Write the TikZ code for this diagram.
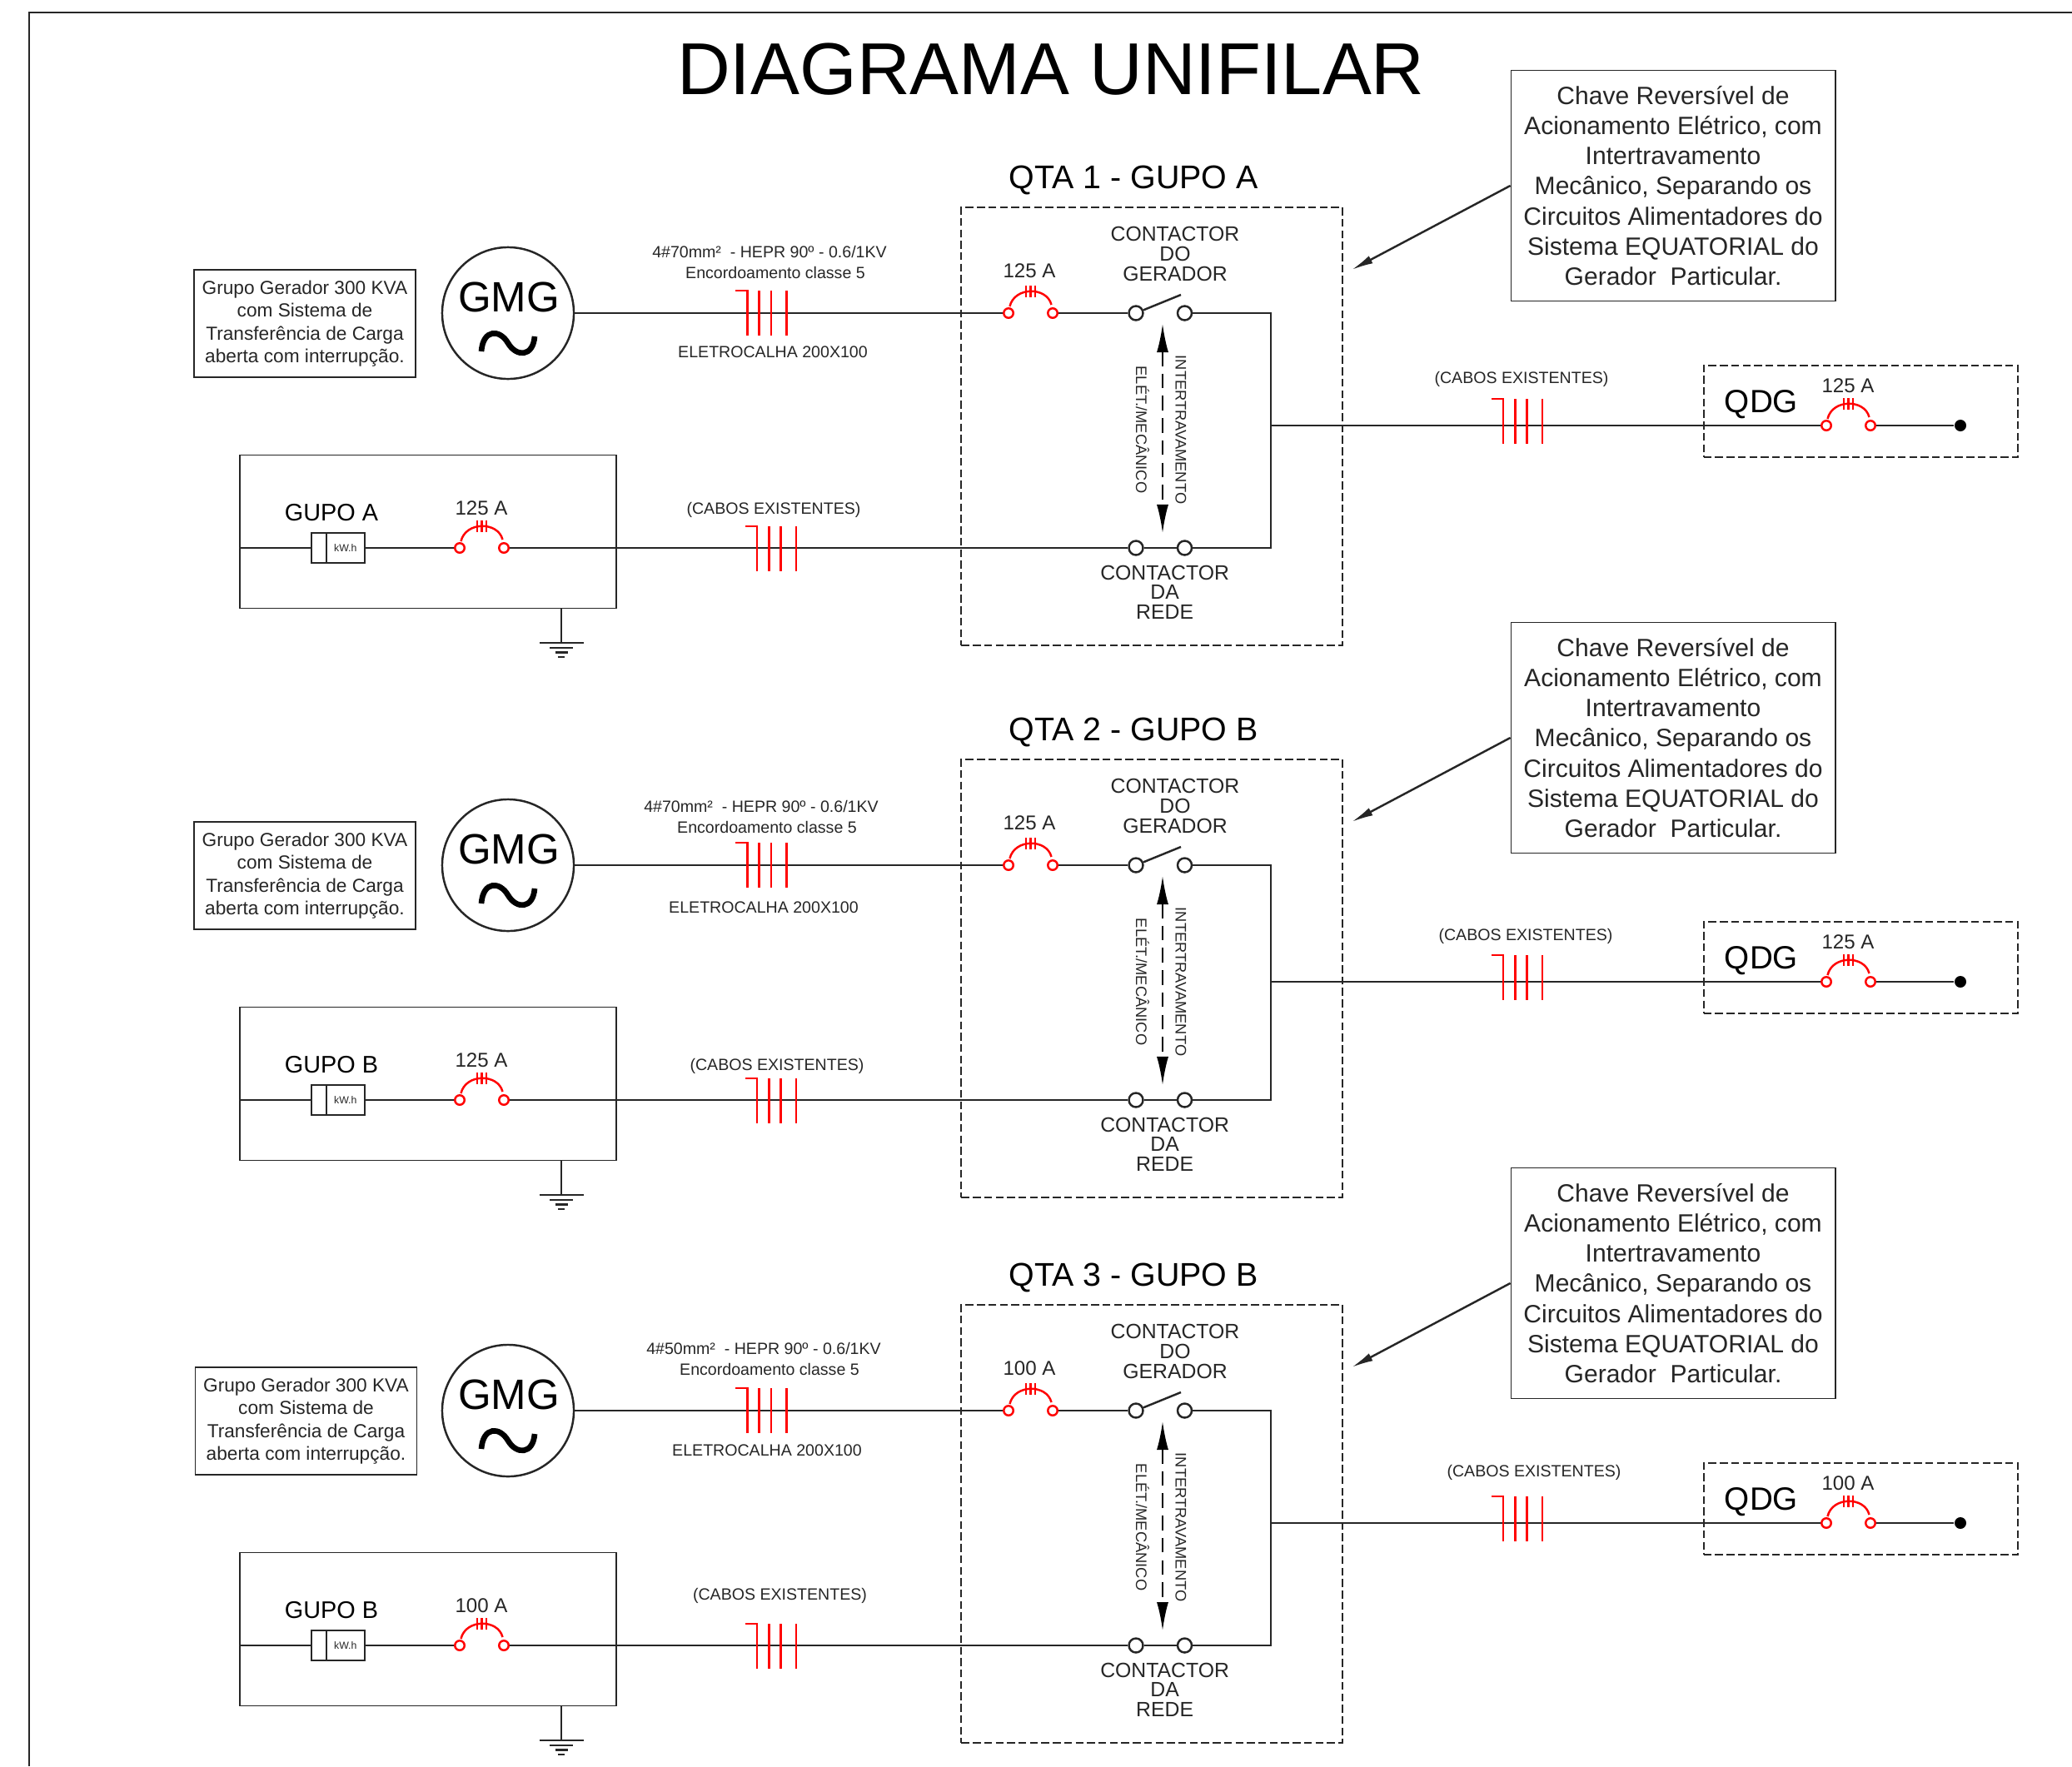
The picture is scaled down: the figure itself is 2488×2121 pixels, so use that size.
\documentclass[tikz,border=0pt]{standalone}
\usepackage{fontspec}
\setmainfont{Liberation Sans}
\usetikzlibrary{positioning,arrows.meta}

\tikzset{
	wire/.style={line width=0.7pt,black!85},
	redwire/.style={line width=0.7pt,red},
	lbl/.style={inner sep=0pt,align=center},
	cabletxt/.style={lbl,font=\fontsize{5.57}{6.6}\selectfont,black!85},
	amptxt/.style={lbl,font=\fontsize{6.85}{8}\selectfont,black!85},
	contacttxt/.style={lbl,font=\fontsize{7.05}{6.7}\selectfont,black!85},
	locktxt/.style={lbl,rotate=-90,font=\fontsize{5.2}{6}\selectfont,black!85},
	contact/.style={circle,draw,line width=0.7pt,black!85,fill=white,minimum size=0.17cm,inner sep=0pt},
	fusept/.style={circle,draw,line width=0.7pt,red,fill=white,minimum size=0.115cm,inner sep=0pt},
	dashbox/.style={draw,line width=0.6pt,black!85,dash pattern=on 2.7pt off 1.2pt,inner sep=0pt},
	plainbox/.style={draw,line width=0.5pt,black!85,inner sep=0pt,align=center},
	cell/.style={draw,line width=0.5pt,black!85,inner sep=0pt,outer sep=0pt,minimum height=0.36cm},
}

\newcommand{\fusesym}[3]{
	\node[fusept] (#1a) at (#2,#3) {};
	\node[fusept] (#1b) at (#2+53,#3) {};
	\draw[redwire] (#2+1.5,#3-8) .. controls (#2+7,#3-32) and (#2+46,#3-32) .. (#2+51.5,#3-10);
	\foreach \t in {-5.4,0,5.4}
		\draw[redwire] (#2+26.5+\t,#3-33) -- (#2+26.5+\t,#3-19);
}
\newcommand{\cabletick}[4]{
	\draw[redwire] (#1-14,#2-#3) -- (#1,#2-#3) -- (#1,#2+#4);
	\foreach \t in {14.4,28.7,47}
		\draw[redwire] (#1+\t,#2-#3) -- (#1+\t,#2+#4);
}

\begin{document}
\begin{tikzpicture}[x=0.01cm,y=-0.01cm]
	\useasboundingbox (0,0) rectangle (2488,2121);

	\coordinate (fa) at (35,2121);
	\coordinate (fb) at (35,15);
	\coordinate (fc) at (2488,15);
	\draw[wire] (fa) -- (fb) -- (fc);

	\node[lbl,font=\fontsize{25.1}{30}\selectfont] (title) at (1262,83) {DIAGRAMA UNIFILAR};

	\foreach \n/\dy/\dq/\qta/\grp/\amp/\sec/\tx/\ty/\ex/\ey/\cx/\cy/\rx/\ry/\gx in {
		1/0/0/QTA 1 - GUPO A/GUPO A/125/70/924/302/928/423/929/612/1827/455/0,
		2/663/668/QTA 2 - GUPO B/GUPO B/125/70/914/305/917/427/933/617/1832/456/0,
		3/1318/1318/QTA 3 - GUPO B/GUPO B/100/50/917/301/921/424/936.5/598/1842/450/1.5}{
	\begin{scope}[shift={(0,\dy)}]
		\node[lbl,font=\fontsize{11.2}{13}\selectfont] (qt\n) at (1361,216) {\qta};
		\node[dashbox,minimum width=4.57cm,minimum height=5.26cm] (qb\n) at (1383,512) {};

		% gerador
		\node[plainbox,font=\fontsize{6.45}{7.8}\selectfont,minimum width=2.66cm,minimum height=1.285cm] (gt\n) at (366+\gx,388.5)
			{Grupo Gerador 300 KVA\\com Sistema de\\Transferência de Carga\\aberta com interrupção.};
		\node[circle,draw,line width=0.7pt,black!85,minimum size=1.58cm,inner sep=0pt] (gm\n) at (610,376) {};
		\node[lbl,font=\fontsize{14.5}{16}\selectfont] (gn\n) at (611,357) {GMG};
		\draw[line width=1.9pt] (578,422) .. controls (580,395) and (600,395) .. (610,412) .. controls (620,429) and (640,429) .. (642,404);

		\fusesym{fm\n}{1211}{376}
		\node[amptxt] (am\n) at (1236,325) {\amp{} A};
		\node[contact] (gl\n) at (1364,376) {};
		\node[contact] (gr\n) at (1422.5,376) {};
		\coordinate (sw\n) at (1418,354);
		\draw[wire] (gl\n) -- (sw\n);
		\draw[wire] (gm\n) -- (fm\n a);
		\draw[wire] (fm\n b) -- (gl\n);
		\node[contacttxt] (cg\n) at (1411,305) {CONTACTOR\\DO\\GERADOR};

		\cabletick{897.3}{376}{27}{27}
		\node[cabletxt] (s1\n) at (\tx,\ty) {4\#\sec mm²~ - HEPR 90º - 0.6/1KV};
		\node[cabletxt] (s2\n) at (\tx+7,\ty+25) {Encordoamento classe 5};
		\node[cabletxt] (el\n) at (\ex,\ey) {ELETROCALHA 200X100};

		% rede
		\node[plainbox,minimum width=4.515cm,minimum height=1.84cm] (gb\n) at (514,638.5) {};
		\node[lbl,font=\fontsize{8.2}{10}\selectfont] (gg\n) at (398,616) {\grp};
		\node[cell,minimum width=0.175cm] (ml\n) at (383,658) {};
		\node[cell,minimum width=0.46cm,right=0pt of ml\n,font=\fontsize{3.5}{4}\selectfont] (mr\n) {kW.h};
		\fusesym{fr\n}{552}{658}
		\node[amptxt] (ar\n) at (578,610) {\amp{} A};
		\node[contact] (rl\n) at (1364,658) {};
		\node[contact] (rr\n) at (1422.5,658) {};
		\node[contacttxt] (cr\n) at (1398.6,711) {CONTACTOR\\DA\\REDE};
		\draw[wire] (gb\n.west |- ml\n) -- (ml\n);
		\draw[wire] (mr\n) -- (fr\n a);
		\draw[wire] (fr\n b) -- (rl\n);
		\draw[wire] (rl\n) -- (rr\n);
		\cabletick{909}{658}{26}{28}
		\node[cabletxt] (ca\n) at (\cx,\cy) {(CABOS EXISTENTES)};

		% terra
		\coordinate (ea\n) at (674,772);
		\draw[wire] (gb\n.south -| ea\n) -- (ea\n);
		\draw[wire] (647.5,772) -- (700.5,772);
		\draw[wire] (660,778) -- (688,778);
		\draw[wire] (666.5,783.5) -- (681.5,783.5);
		\draw[wire] (670,789) -- (678,789);

		% barra
		\coordinate (bt\n) at (1526,376);
		\coordinate (bb\n) at (1526,658);
		\draw[wire] (gr\n) -- (bt\n) -- (bb\n) -- (rr\n);

		% intertravamento
		\coordinate (lt\n) at (1396,389);
		\coordinate (lb\n) at (1396,640);
		\draw[line width=0.6pt,dash pattern=on 5pt off 2.6pt,{Latex[length=0.34cm,width=0.14cm]}-{Latex[length=0.34cm,width=0.14cm]}] (lt\n) -- (lb\n);
		\node[locktxt] (li\n) at (1418,516) {INTERTRAVAMENTO};
		\node[locktxt] (le\n) at (1372,516) {ELÉT./MECÂNICO};

		% chave
		\node[plainbox,font=\fontsize{8.55}{10.3}\selectfont,minimum width=3.89cm,minimum height=2.77cm] (cb\n) at (2009,223)
			{Chave Reversível de\\Acionamento Elétrico, com\\Intertravamento\\Mecânico, Separando os\\Circuitos Alimentadores do\\Sistema EQUATORIAL do\\Gerador~ Particular.};
		\coordinate (cp\n) at (1623,324);
		\draw[wire,-{Latex[length=0.26cm,width=0.1cm]}] (cb\n.west) -- (cp\n);

		% qdg
		\begin{scope}[shift={(0,\dq-\dy)}]
			\coordinate (bj\n) at (1526,511);
			\node[dashbox,minimum width=3.775cm,minimum height=1.1cm] (db\n) at (2234.5,494) {};
			\node[lbl,font=\fontsize{11}{12}\selectfont] (dn\n) at (2115,486) {QDG};
			\fusesym{fq\n}{2193}{511}
			\node[amptxt] (aq\n) at (2219,463) {\amp{} A};
			\node[circle,fill=black,minimum size=0.14cm,inner sep=0pt] (dd\n) at (2354,511) {};
			\draw[wire] (bj\n) -- (fq\n a);
			\draw[wire] (fq\n b) -- (dd\n);
			\cabletick{1805}{511}{32}{22}
			\node[cabletxt] (cd\n) at (\rx,\ry) {(CABOS EXISTENTES)};
		\end{scope}
	\end{scope}
	}
\end{tikzpicture}
\end{document}
